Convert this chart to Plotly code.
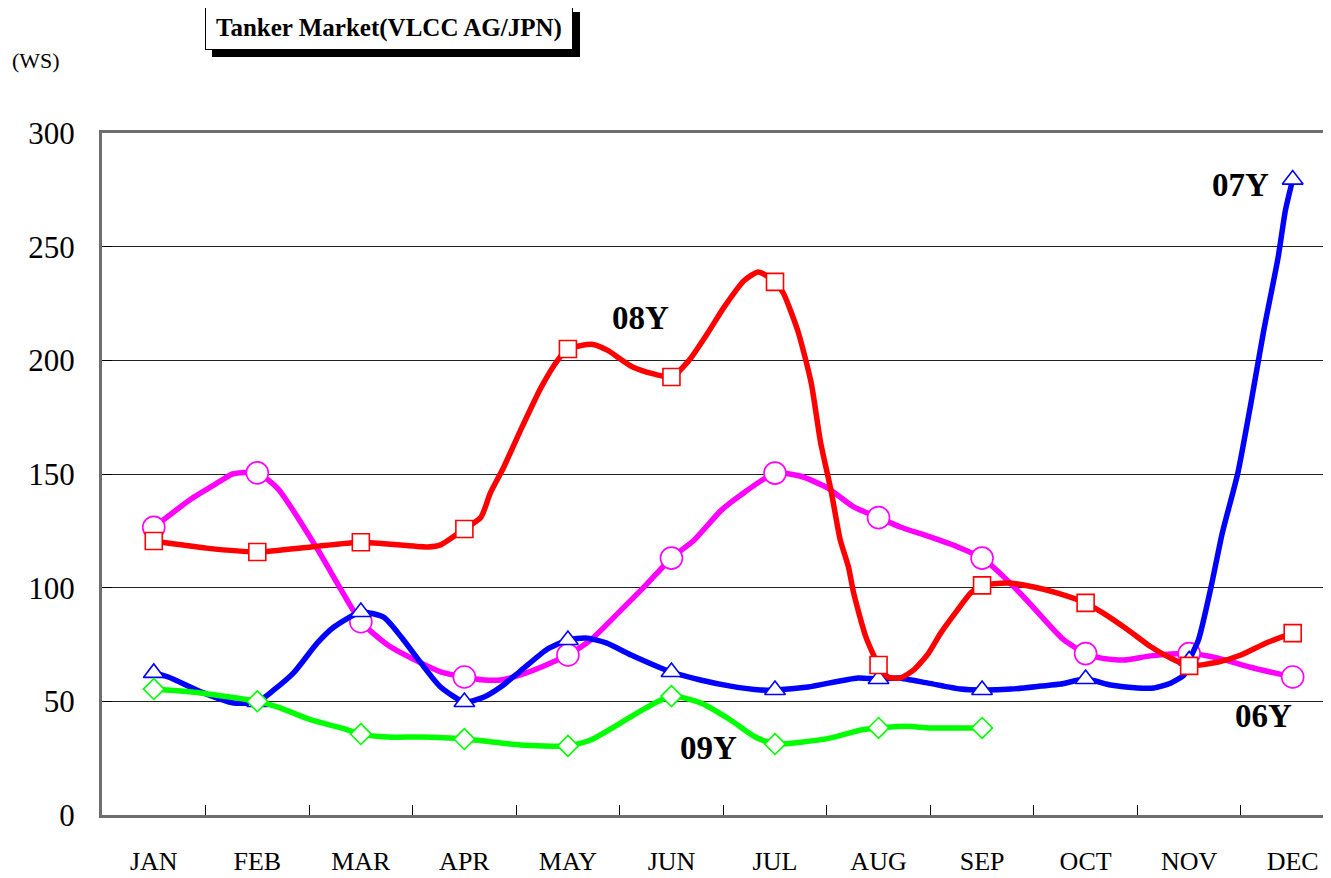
import plotly.graph_objects as go

months = ["JAN", "FEB", "MAR", "APR", "MAY", "JUN", "JUL", "AUG", "SEP", "OCT", "NOV", "DEC"]

# Monthly (marker) values
m06 = [126.5, 150.5, 85, 60.7, 70.4, 113, 150.4, 130.8, 113, 71, 71, 60.7]
m07 = [62.5, 49.7, 89.3, 49.7, 77, 62.9, 55, 59.8, 55, 59.8, 68, 279.5]
m08 = [120.5, 115.7, 120, 125.8, 205, 192.7, 234.5, 66, 101, 93.3, 65.6, 80]
m09 = [55.4, 50, 35.6, 33.4, 30.4, 52.3, 31.2, 38.3, 38.3]

# Weekly line values (x = fractional month index)
x06 = [0, 0.36, 0.63, 0.76, 1, 1.2, 1.58, 1.81, 2, 2.26, 2.58, 2.77, 3, 3.19, 3.35, 3.54, 3.79, 4,
       4.22, 4.51, 4.75, 5, 5.22, 5.48, 5.67, 6, 6.25, 6.51, 6.76, 7, 7.21, 7.5, 7.76, 8, 8.11, 8.4,
       8.63, 8.79, 9, 9.15, 9.37, 9.63, 10, 10.28, 10.59, 11]
y06 = [126.5, 139, 146.5, 150, 150.5, 143.5, 117, 99, 85, 74.8, 66.9, 63, 60.7, 59.4, 59.4, 61.6, 66, 70.4,
       77, 90, 101, 113, 121, 134, 140.8, 150.4, 149, 143.8, 135.5, 130.8, 126.7, 122.3, 118, 113, 109, 96,
       84.5, 77, 71, 69, 68.2, 70, 71, 69, 65, 60.7]

x07 = [0, 0.14, 0.48, 0.77, 1, 1.16, 1.35, 1.58, 1.74, 2, 2.22, 2.39, 2.58, 2.77, 3, 3.19, 3.35, 3.53,
       3.79, 4, 4.17, 4.37, 4.61, 5, 5.28, 5.57, 5.86, 6, 6.32, 6.8, 7, 7.19, 7.48, 7.79, 8, 8.28, 8.57,
       8.76, 9, 9.24, 9.5, 9.66, 9.82, 9.95, 10, 10.09, 10.21, 10.32, 10.47, 10.59, 10.72, 10.86, 10.93, 11]
y07 = [62.5, 60.7, 53.7, 49.3, 49.7, 55, 62.5, 75.7, 82.7, 89.3, 87, 78.3, 66.9, 56.3, 49.7, 51.9, 56.3, 62.9,
       72.6, 77, 77.9, 75.7, 70.4, 62.9, 59.4, 56.7, 55, 55, 56.3, 60.3, 59.8, 60.3, 58, 55.4, 55, 55.4, 56.7,
       57.6, 59.8, 57.2, 55.9, 55.9, 58, 61.6, 68, 77, 100, 124, 150.4, 179.5, 213, 245.5, 266, 279.5]

x08 = [0, 0.51, 1, 1.52, 2, 2.65, 2.77, 3, 3.16, 3.25, 3.38, 3.54, 3.74, 3.9, 4, 4.24, 4.38, 4.63, 5,
       5.17, 5.35, 5.51, 5.7, 5.84, 6, 6.08, 6.22, 6.35, 6.44, 6.54, 6.63, 6.71, 6.76, 6.88, 7, 7.09,
       7.21, 7.34, 7.48, 7.6, 7.76, 7.89, 8, 8.25, 8.5, 8.73, 9, 9.17, 9.41, 9.63, 9.82, 10, 10.28, 10.5,
       10.76, 11]
y08 = [120.5, 117.4, 115.7, 117.9, 120, 117.9, 118.8, 125.8, 131, 141.6, 153, 169, 188, 200, 205, 207, 204.5,
       197, 192.7, 200, 212, 223.5, 235, 238.9, 234.5, 229.6, 213, 190, 164, 143, 121, 109, 97.6, 78, 66,
       60.7, 60.3, 63.8, 71, 80, 90, 97.6, 101, 102, 100.3, 97.6, 93.3, 88.8, 81.4, 74, 69, 65.6, 67.3, 70.4,
       76, 80]

x09 = [0, 0.45, 1, 1.2, 1.52, 1.81, 2, 2.26, 2.58, 3, 3.35, 3.54, 4, 4.22, 4.51, 4.75, 5, 5.28, 5.57,
       5.81, 6, 6.25, 6.54, 6.83, 7, 7.26, 7.5, 7.79, 8]
y09 = [55.4, 53.7, 50, 47.5, 41.8, 38.3, 35.6, 34.3, 34.3, 33.4, 31.7, 30.8, 30.4, 33, 40.5, 47, 52.3, 49.3,
       41.8, 34.3, 31.2, 32, 33.9, 37.4, 38.3, 39, 38.3, 38.3, 38.3]

series = [
    ("06Y", x06, y06, m06, "#FF00FF", "circle", 22),
    ("07Y", x07, y07, m07, "#0000FF", "triangle-up", 18),
    ("08Y", x08, y08, m08, "#FF0000", "square", 17),
    ("09Y", x09, y09, m09, "#00FF00", "diamond", 16),
]

FONT = "Liberation Serif"
fig = go.Figure()
for name, xs, ys, ms, col, sym, sz in series:
    fig.add_trace(go.Scatter(x=xs, y=ys, mode="lines", name=name,
                             line=dict(color=col, width=5.5, shape="spline", smoothing=0.6),
                             hoverinfo="skip", showlegend=False))
    fig.add_trace(go.Scatter(x=list(range(len(ms))), y=ms, mode="markers", name=name,
                             marker=dict(symbol=sym, size=sz, color="white",
                                         line=dict(color=col, width=1.6)),
                             showlegend=False, cliponaxis=False))

labels = [("07Y", 10.5, 277), ("08Y", 4.70, 218.6), ("09Y", 5.36, 29.5), ("06Y", 10.72, 43.5)]
for t, lx, ly in labels:
    fig.add_annotation(x=lx, y=ly, text=f"<b>{t}</b>", showarrow=False,
                       xanchor="center", yanchor="middle",
                       font=dict(family=FONT, size=33, color="black"))

# Page body adds an 8px offset; plot area is sized so it lands at x 102..1331, y 133..815 on screen.
# paper coords: x0 -> 102 px, width 1229 ; y0 -> 815 px, height 682
fig.add_annotation(xref="paper", yref="paper", x=(389 - 102) / 1229, y=(815 - 28) / 682, text=" ",
                   showarrow=False, width=364, height=41, bgcolor="black", xanchor="center",
                   yanchor="middle", bordercolor="black", borderwidth=1, borderpad=1,
                   xshift=7, yshift=-7)
fig.add_annotation(xref="paper", yref="paper", x=(389 - 102) / 1229, y=(815 - 28) / 682,
                   text="<b>Tanker Market(VLCC AG/JPN)</b>", showarrow=False,
                   xanchor="center", yanchor="middle",
                   width=364, height=41, bgcolor="white", bordercolor="black",
                   borderwidth=1, borderpad=1, font=dict(family=FONT, size=25, color="black"))
fig.add_annotation(xref="paper", yref="paper", x=(36 - 102) / 1229, y=(815 - 60) / 682, text="(WS)",
                   showarrow=False, xanchor="center", yanchor="middle",
                   font=dict(family=FONT, size=22, color="black"))

fig.update_layout(
    width=1323, height=870,
    margin=dict(l=94, r=0, t=125, b=63),
    paper_bgcolor="white", plot_bgcolor="white",
    font=dict(family=FONT, color="black"),
    xaxis=dict(range=[-0.5, 11.37], tickmode="array", tickvals=list(range(12)), ticktext=months,
               ticks="", showgrid=False, zeroline=False, showline=True, linecolor="#6e6e6e",
               linewidth=3, mirror=True, tickfont=dict(family=FONT, size=26),
               ticklabelstandoff=21,
               minor=dict(tickmode="array", tickvals=[i + 0.5 for i in range(11)], ticks="inside",
                          ticklen=10, tickcolor="black", tickwidth=1, showgrid=False)),
    yaxis=dict(range=[0, 300], tickmode="linear", tick0=0, dtick=50, ticks="inside", ticklen=10,
               tickcolor="black", showgrid=True, gridcolor="#222", gridwidth=1, zeroline=False,
               showline=True, linecolor="#6e6e6e", linewidth=3,
               tickfont=dict(family=FONT, size=31), ticklabelstandoff=18),
)

fig.write_html("out.html")
